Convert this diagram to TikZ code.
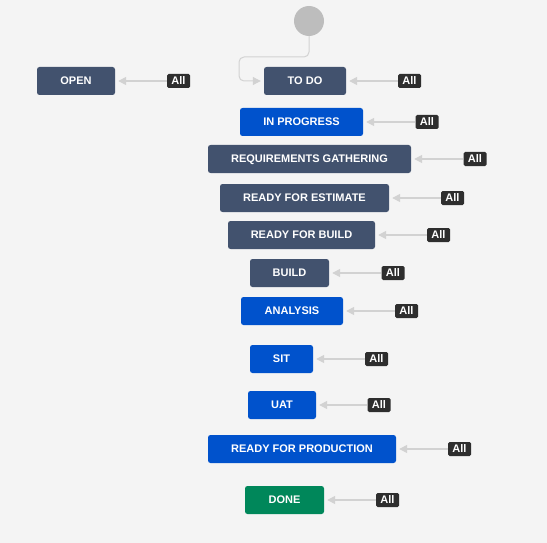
\documentclass[tikz,border=0pt]{standalone}
\usepackage{fontspec}
\setmainfont{Liberation Sans}
\usetikzlibrary{arrows.meta}
\definecolor{bg}{HTML}{F4F4F4}
\definecolor{slate}{HTML}{42526E}
\definecolor{jblue}{HTML}{0052CC}
\definecolor{jgreen}{HTML}{00875A}
\definecolor{tagc}{HTML}{2E2E2E}
\definecolor{linec}{HTML}{D2D2D2}
\definecolor{startc}{HTML}{BDBDBD}
\tikzset{
  statebox/.style={rounded corners=2.5pt, minimum height=28pt, inner sep=0pt,
    text height=7.9pt, text depth=0pt,
    text=white, font=\fontsize{11}{13}\selectfont\bfseries},
  alltag/.style={fill=tagc, rounded corners=1.5pt, minimum width=23pt, minimum height=14pt,
    inner sep=0pt, text height=7.9pt, text depth=0pt,
    text=white, font=\fontsize{11}{12}\selectfont\bfseries},
  conn/.style={draw=linec, line width=1.5pt, -{Triangle[length=8pt,width=8pt]}, shorten >=3pt},
  startconn/.style={draw=linec, line width=1pt, rounded corners=5pt, -{Triangle[length=8pt,width=8pt]}, shorten >=3pt}
}
\begin{document}
\begin{tikzpicture}[x=1pt,y=-1pt]
\fill[bg] (0,0) rectangle (547,543);
\useasboundingbox (0,0) rectangle (547,543);
% start
\node[circle, fill=startc, minimum size=30pt, inner sep=0pt] (start) at (309,21) {};
% states
\node[statebox, fill=slate, minimum width=78pt] (open) at (76,81) {OPEN};
\node[statebox, fill=slate, minimum width=82pt] (todo) at (305,81) {TO DO};
\node[statebox, fill=jblue, minimum width=123pt] (inprog) at (301.5,122) {IN PROGRESS};
\node[statebox, fill=slate, minimum width=203pt] (req) at (309.5,159) {REQUIREMENTS GATHERING};
\node[statebox, fill=slate, minimum width=169pt] (rfe) at (304.5,198) {READY FOR ESTIMATE};
\node[statebox, fill=slate, minimum width=147pt] (rfb) at (301.5,235) {READY FOR BUILD};
\node[statebox, fill=slate, minimum width=79pt] (build) at (289.5,273) {BUILD};
\node[statebox, fill=jblue, minimum width=102pt] (analysis) at (292,311) {ANALYSIS};
\node[statebox, fill=jblue, minimum width=63pt] (sit) at (281.5,359) {SIT};
\node[statebox, fill=jblue, minimum width=68pt] (uat) at (282,405) {UAT};
\node[statebox, fill=jblue, minimum width=188pt] (rfp) at (302,449) {READY FOR PRODUCTION};
\node[statebox, fill=jgreen, minimum width=79pt] (done) at (284.5,500) {DONE};
% All tags
\node[alltag] (a1) at (178.5,81) {All};
\node[alltag] (a2) at (409.5,81) {All};
\node[alltag] (a3) at (427,122) {All};
\node[alltag] (a4) at (475,159) {All};
\node[alltag] (a5) at (452.5,198) {All};
\node[alltag] (a6) at (438.5,235) {All};
\node[alltag] (a7) at (393,273) {All};
\node[alltag] (a8) at (406.5,311) {All};
\node[alltag] (a9) at (376.5,359) {All};
\node[alltag] (a10) at (379,405) {All};
\node[alltag] (a11) at (459.5,449) {All};
\node[alltag] (a12) at (387.5,500) {All};
% connectors
\draw[conn] (a1) -- (open);
\draw[conn] (a2) -- (todo);
\draw[conn] (a3) -- (inprog);
\draw[conn] (a4) -- (req);
\draw[conn] (a5) -- (rfe);
\draw[conn] (a6) -- (rfb);
\draw[conn] (a7) -- (build);
\draw[conn] (a8) -- (analysis);
\draw[conn] (a9) -- (sit);
\draw[conn] (a10) -- (uat);
\draw[conn] (a11) -- (rfp);
\draw[conn] (a12) -- (done);
\coordinate (s1) at (309,57);
\coordinate (s2) at (239,57);
\coordinate (s3) at (239,81);
\draw[startconn] (start.south) -- (s1) -- (s2) -- (s3) -- (todo.west);
\end{tikzpicture}
\end{document}
